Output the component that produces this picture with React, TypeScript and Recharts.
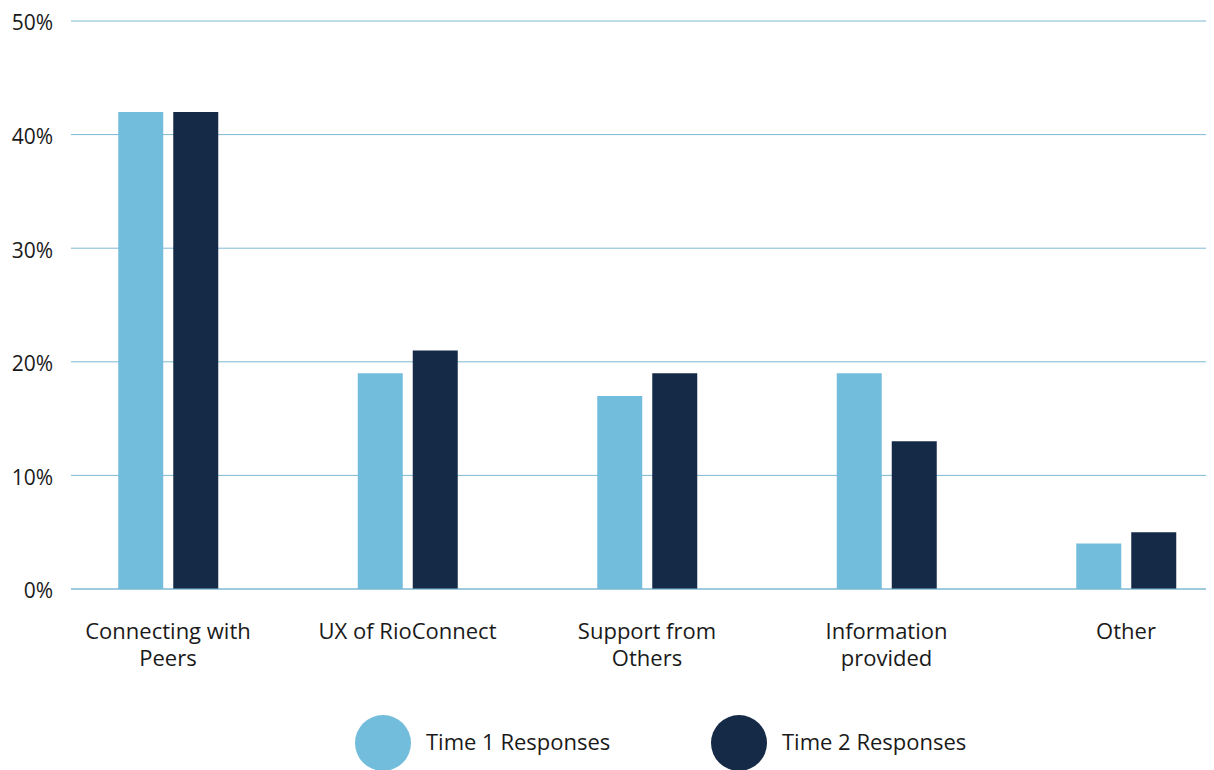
import React from "react";
import { BarChart, Bar, XAxis, YAxis, CartesianGrid } from "recharts";

const categories = [
  "Connecting with Peers",
  "UX of RioConnect",
  "Support from Others",
  "Information provided",
  "Other",
];
const categoryLines = [
  ["Connecting with", "Peers"],
  ["UX of RioConnect"],
  ["Support from", "Others"],
  ["Information", "provided"],
  ["Other"],
];
const time1 = [42, 19, 17, 19, 4];
const time2 = [42, 21, 19, 13, 5];
const yTicks = [0, 10, 20, 30, 40, 50];
const seriesNames = ["Time 1 Responses", "Time 2 Responses"];
const seriesColors = ["#72BCDC", "#152A47"];

const data = categories.map((c, i) => ({ name: c, t1: time1[i], t2: time2[i] }));

const FONT = "'Open Sans', sans-serif";

const XTick = (props: any) => {
  const { x, y, payload } = props;
  const idx = categories.indexOf(payload.value);
  const lines = idx >= 0 ? categoryLines[idx] : [String(payload.value)];
  return (
    <text x={x} y={y} textAnchor="middle" fontFamily={FONT} fontSize={22} fill="#1a1a1a">
      {lines.map((l, i) => (
        <tspan key={i} x={x} y={y + 50 + i * 27}>
          {l}
        </tspan>
      ))}
    </text>
  );
};

const YTick = (props: any) => {
  const { x, y, payload } = props;
  return (
    <text x={x} y={y + 2} dy="0.355em" textAnchor="end" fontFamily={FONT} fontSize={21} fill="#1a1a1a">
      {`${payload.value}%`}
    </text>
  );
};

export default function App() {
  return (
    <div style={{ position: "relative", margin: "-8px 0 0 -8px", width: 1214, height: 770, overflow: "hidden" }}>
      <BarChart
        width={1214}
        height={770}
        data={data}
        margin={{ top: 21, right: 0, left: 0, bottom: 81 }}
        barSize={45}
        barGap={10}
      >
        <CartesianGrid vertical={false} stroke="#7DB9D4" strokeWidth={1} />
        <XAxis
          dataKey="name"
          height={100}
          axisLine={{ stroke: "#7DB9D4" }}
          tickLine={false}
          tickSize={0}
          tickMargin={0}
          interval={0}
          padding={{ left: -22.75, right: -31.75 }}
          tick={<XTick />}
        />
        <YAxis
          width={71}
          domain={[0, 50]}
          ticks={yTicks}
          axisLine={false}
          tickLine={false}
          tickSize={0}
          tickMargin={18}
          tick={<YTick />}
        />
        <Bar dataKey="t1" name={seriesNames[0]} fill={seriesColors[0]} isAnimationActive={false} />
        <Bar dataKey="t2" name={seriesNames[1]} fill={seriesColors[1]} isAnimationActive={false} />
      </BarChart>
      {seriesNames.map((n, i) => (
        <div
          key={n}
          style={{
            position: "absolute",
            left: [355, 711][i],
            top: 715,
            display: "flex",
            alignItems: "center",
            height: 56,
            fontFamily: FONT,
            fontSize: 22,
            color: "#1a1a1a",
            whiteSpace: "nowrap",
          }}
        >
          <div style={{ width: 56, height: 56, borderRadius: "50%", background: seriesColors[i], marginRight: 15 }} />
          <span style={{ position: "relative", top: -2 }}>{n}</span>
        </div>
      ))}
    </div>
  );
}
